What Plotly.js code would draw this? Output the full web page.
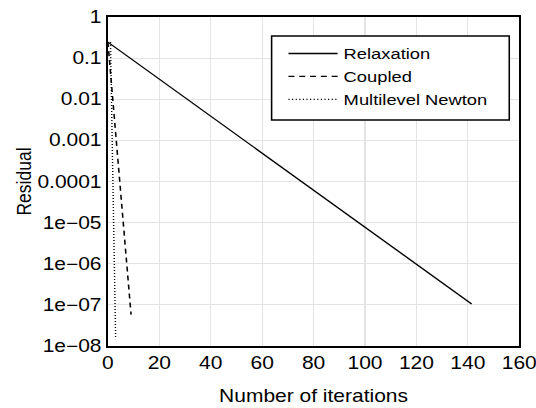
<!DOCTYPE html>
<html>
<head>
<meta charset="utf-8">
<script src="https://cdn.plot.ly/plotly-3.0.1.min.js"></script>
<style>
  html, body { margin: 0; padding: 0; background: #fff; overflow: hidden; }
  #chart { width: 447px; height: 408px; transform: scaleX(1.1991); transform-origin: 0 0; }
</style>
</head>
<body>
<div id="chart"></div>
<script>
// Data
const relaxationIter = [0, 141.5];
const relaxationResidual = [0.245, 1.05e-7];

const coupledIter = [0, 9];
const coupledResidual = [0.245, 5.8e-8];

const newtonIter = [1, 3];
const newtonResidual = [0.245, 1.5e-8];

const xTickVals = [0, 20, 40, 60, 80, 100, 120, 140, 160];
const yTickVals = [1e-8, 1e-7, 1e-6, 1e-5, 1e-4, 1e-3, 1e-2, 1e-1, 1];
const yTickText = ['1e\u221208', '1e\u221207', '1e\u221206', '1e\u221205', '0.0001', '0.001', '0.01', '0.1', '1'];

const FONT = 'Liberation Sans, Arial, Helvetica, sans-serif';

const traces = [
  { x: relaxationIter, y: relaxationResidual, name: 'Relaxation', mode: 'lines',
    line: { color: '#000', width: 1.3, dash: 'solid' } },
  { x: coupledIter, y: coupledResidual, name: 'Coupled', mode: 'lines',
    line: { color: '#000', width: 1.3, dash: '5px,4px' } },
  { x: newtonIter, y: newtonResidual, name: 'Multilevel Newton', mode: 'lines',
    line: { color: '#000', width: 1.2, dash: '1px,2px' } }
];

const layout = {
  width: 447, height: 408,
  margin: { l: 90, r: 14, t: 17, b: 62 },
  paper_bgcolor: '#fff', plot_bgcolor: '#fff',
  font: { family: FONT, size: 17.5, color: '#000' },
  showlegend: true,
  legend: {
    x: 0.4244, y: 0.939, xanchor: 'left', yanchor: 'top',
    bgcolor: 'rgba(0,0,0,0)', borderwidth: 0,
    font: { family: FONT, size: 15.3, color: '#000' },
    itemwidth: 41
  },
  // frame behind the legend entries
  shapes: [{
    type: 'rect', xref: 'paper', yref: 'paper',
    x0: 0.398, x1: 0.9758, y0: 0.687, y1: 0.9422,
    line: { color: '#000', width: 1.3 }, fillcolor: '#fff', layer: 'above'
  }],
  xaxis: {
    range: [0, 160], tickvals: xTickVals, ticks: '',
    ticklabeloverflow: 'allow',
    showgrid: true, gridcolor: '#e3e3e3', gridwidth: 1,
    zeroline: false, showline: true, linecolor: '#000', linewidth: 1.8, mirror: true,
    tickfont: { family: FONT, size: 17.5, color: '#000' },
    title: { text: 'Number of iterations', font: { family: FONT, size: 17.5, color: '#000' }, standoff: 18 },
    automargin: false
  },
  yaxis: {
    type: 'log', range: [-8, 0], tickvals: yTickVals, ticktext: yTickText, ticks: '',
    ticklabeloverflow: 'allow',
    showgrid: true, gridcolor: '#e3e3e3', gridwidth: 1,
    zeroline: false, showline: true, linecolor: '#000', linewidth: 1.8, mirror: true,
    tickfont: { family: FONT, size: 17.5, color: '#000' },
    title: { text: 'Residual', font: { family: FONT, size: 17.5, color: '#000' }, standoff: 0 },
    automargin: false
  }
};

Plotly.newPlot('chart', traces, layout, { displayModeBar: false, staticPlot: true });
</script>
</body>
</html>
